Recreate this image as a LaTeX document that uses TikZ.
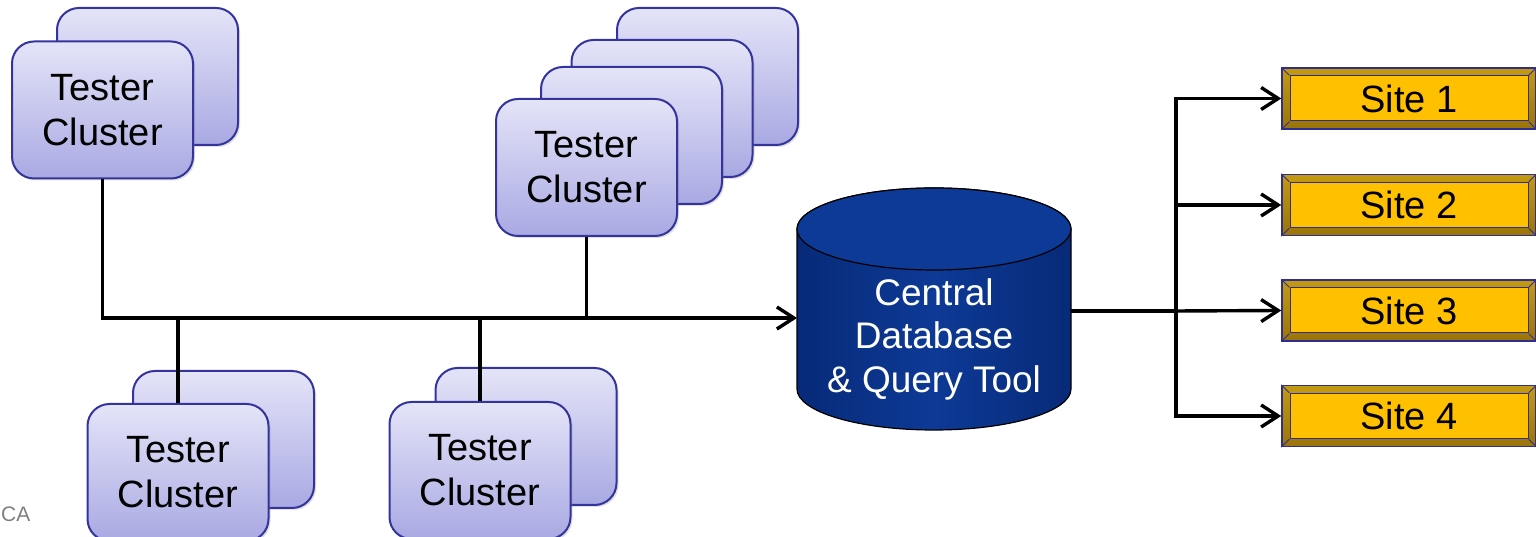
\documentclass[tikz,border=0pt]{standalone}
\usepackage{fontspec}
\setmainfont{Liberation Sans}
\usetikzlibrary{arrows.meta,shadows}
\definecolor{tfilltop}{HTML}{E4E4F8}
\definecolor{tfillbot}{HTML}{A9A9E3}
\definecolor{tborder}{HTML}{34349C}
\definecolor{dbblue}{HTML}{0D3A96}
\definecolor{dbdark}{HTML}{072A78}
\definecolor{gold}{HTML}{FFC000}
\definecolor{golddark}{HTML}{9A7408}
\definecolor{goldmid}{HTML}{C49A10}
\definecolor{sborder}{HTML}{2E2E94}
\begin{document}
\begin{tikzpicture}[x=1pt,y=1pt,
  tbox/.style={rectangle, rounded corners=22pt, minimum width=181pt, minimum height=137pt,
    top color=tfilltop, bottom color=tfillbot, draw=tborder, line width=2pt,
    drop shadow={shadow xshift=2pt, shadow yshift=-2pt, opacity=0.25},
    align=center, font=\fontsize{38}{45}\selectfont, inner sep=0pt},
  conn/.style={line width=3.4pt, black},
  arr/.style={conn, -{Straight Barb[length=17pt,width=22pt]}},
  sitebox/.style={rectangle, minimum width=254pt, minimum height=61pt, inner sep=0pt,
    top color=goldmid, bottom color=golddark, draw=sborder, line width=1.5pt},
  siteinner/.style={rectangle, minimum width=238pt, minimum height=45pt, inner sep=0pt,
    fill=gold, draw=sborder, line width=1pt, font=\fontsize{38}{45}\selectfont}]
\useasboundingbox (0,0) rectangle (1536,537);

% top-left cluster
\node[tbox] (tlb) at (147.5,460.5) {};
\node[tbox] (tl) at (102.5,427) {Tester\\Cluster};
% top-middle cluster
\node[tbox] (tm4) at (707.5,460.5) {};
\node[tbox] (tm3) at (662,428.5) {};
\node[tbox] (tm2) at (631.5,401.5) {};
\node[tbox] (tm) at (586.5,369.5) {Tester\\Cluster};
% bottom-left cluster
\node[tbox] (blb) at (223.5,97.5) {};
\node[tbox] (bl) at (178,64.5) {Tester\\Cluster};
% bottom-middle cluster
\node[tbox] (bmb) at (526,100.5) {};
\node[tbox] (bm) at (480,66.5) {Tester\\Cluster};

% central database cylinder
\shade[left color=dbdark, right color=dbdark, middle color=dbblue, draw=black, line width=1.2pt]
  (797,308) -- (797,148) arc[start angle=180, end angle=360, x radius=137pt, y radius=41pt]
  -- (1071,308) arc[start angle=0, end angle=180, x radius=137pt, y radius=41pt] -- cycle;
\draw[fill=dbblue, draw=black, line width=1.2pt] (934,308) ellipse [x radius=137pt, y radius=41pt];
\node[text=white, align=center, font=\fontsize{37}{43.5}\selectfont, minimum width=274pt, inner sep=0pt]
  (db) at (934,198) {Central\\Database\\\& Query Tool};
\coordinate (dbin) at (797,219);
\coordinate (dbout) at (1071,226);

% sites
\foreach \n/\y in {1/438.5, 2/332, 3/226.5, 4/121}{
  \node[sitebox] (s\n) at (1409,\y) {};
  \draw[sborder, line width=0.8pt] (s\n.north west) -- ++(8,-8) (s\n.south west) -- ++(8,8)
     (s\n.north east) -- ++(-8,-8) (s\n.south east) -- ++(-8,8);
  \node[siteinner] (si\n) at (1409,\y) {Site \n};
}

% connectors
\coordinate (j1) at (178,219);
\coordinate (j2) at (480,219);
\coordinate (j3) at (586.5,219);
\draw[arr] (tl.south) |- (dbin);
\draw[conn] (j1) -- (bl.north);
\draw[conn] (j2) -- (bm.north);
\draw[conn] (tm.south) -- (j3);
\coordinate (split) at (1176,226);
\draw[conn] (dbout) -- (split);
\draw[arr] (split) |- (s1.west);
\draw[arr] (split) |- (s2.west);
\draw[arr] (split) -- (s3.west);
\draw[arr] (split) |- (s4.west);

\node[anchor=west, inner sep=0pt, text=gray, font=\fontsize{21}{24}\selectfont] (ca) at (1,23) {CA};
\end{tikzpicture}
\end{document}
